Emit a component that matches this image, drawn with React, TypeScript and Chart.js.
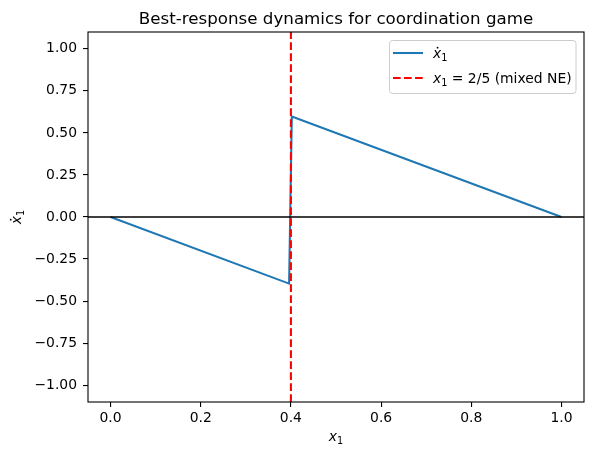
import { useEffect, useRef } from 'react';
import { Chart, registerables } from 'chart.js';

Chart.register(...registerables);

// Best-response dynamics x1' = BR(x1) - x1 for the coordination game
const curveX = [0, 0.396, 0.402, 1.0];
const curveY = [0, -0.396, 0.598, 0];
const mixedNE = 0.4;
const xTicks = [0, 0.2, 0.4, 0.6, 0.8, 1.0];
const yTicks = [-1, -0.75, -0.5, -0.25, 0, 0.25, 0.5, 0.75, 1];
const xRange = [-0.05, 1.05];
const yRange = [-1.1, 1.1];

const FONT = '"DejaVu Sans", sans-serif';
const BLUE = '#1f77b4';
const RED = '#ff0000';

type Piece = { t: string; it?: boolean; sub?: boolean; dot?: boolean };

function pieceFont(p: Piece, size: number) {
  const s = p.sub ? size * 0.7 : size;
  return `${p.it ? 'italic ' : ''}${s}px ${FONT}`;
}

function measureMath(ctx: CanvasRenderingContext2D, pieces: Piece[], size: number) {
  let w = 0;
  for (const p of pieces) {
    ctx.font = pieceFont(p, size);
    w += ctx.measureText(p.t).width;
  }
  return w;
}

// Draws a short run of math-like text (italic symbols, subscripts, dot accents)
function drawMath(ctx: CanvasRenderingContext2D, pieces: Piece[], x: number, y: number, size: number) {
  let cx = x;
  ctx.textBaseline = 'alphabetic';
  ctx.textAlign = 'left';
  for (const p of pieces) {
    ctx.font = pieceFont(p, size);
    const w = ctx.measureText(p.t).width;
    const dy = p.sub ? size * 0.25 : 0;
    ctx.fillText(p.t, cx, y + dy);
    if (p.dot) {
      ctx.beginPath();
      ctx.arc(cx + w * 0.55, y - size * 0.74, size * 0.065, 0, Math.PI * 2);
      ctx.fill();
    }
    cx += w;
  }
  return cx - x;
}

const fmt = (v: number, digits: number) => {
  const s = Math.abs(v).toFixed(digits);
  return v < 0 ? '\u2212' + s : s;
};

const xdotLabel: Piece[] = [{ t: 'x', it: true, dot: true }, { t: '1', sub: true }];
const xLabel: Piece[] = [{ t: 'x', it: true }, { t: '1', sub: true }];
const neLabel: Piece[] = [
  { t: 'x', it: true },
  { t: '1', sub: true },
  { t: ' = 2/5 (mixed NE)' },
];

const decorations = {
  id: 'decorations',
  afterDatasetsDraw(chart: Chart) {
    const { ctx, chartArea: a } = chart;
    ctx.save();
    ctx.strokeStyle = '#000';
    ctx.lineWidth = 1.1;
    ctx.strokeRect(a.left, a.top, a.right - a.left, a.bottom - a.top);
    ctx.restore();
  },
  afterDraw(chart: Chart) {
    const { ctx, chartArea: a } = chart;
    const cx = (a.left + a.right) / 2;
    ctx.save();
    ctx.fillStyle = '#000';

    // title
    ctx.font = `16.7px ${FONT}`;
    ctx.textAlign = 'center';
    ctx.textBaseline = 'alphabetic';
    ctx.fillText('Best-response dynamics for coordination game', cx, 24);

    // x axis label
    const size = 13.9;
    const wx = measureMath(ctx, xLabel, size);
    drawMath(ctx, xLabel, cx - wx / 2, 441, size);

    // y axis label
    ctx.save();
    ctx.translate(21, (a.top + a.bottom) / 2);
    ctx.rotate(-Math.PI / 2);
    const wy = measureMath(ctx, xdotLabel, size);
    drawMath(ctx, xdotLabel, -wy / 2, 0, size);
    ctx.restore();

    // legend
    const lx = 389.5, ly = 40.5, lw = 186.5, lh = 53;
    ctx.beginPath();
    ctx.roundRect(lx, ly, lw, lh, 3);
    ctx.fillStyle = 'rgba(255,255,255,0.8)';
    ctx.fill();
    ctx.strokeStyle = '#cccccc';
    ctx.lineWidth = 1;
    ctx.stroke();

    const rows = [
      { y: 53, color: BLUE, dash: [] as number[], label: xdotLabel },
      { y: 78, color: RED, dash: [7.7, 3.3], label: neLabel },
    ];
    for (const r of rows) {
      ctx.beginPath();
      ctx.setLineDash(r.dash);
      ctx.strokeStyle = r.color;
      ctx.lineWidth = 2.08;
      ctx.moveTo(393, r.y);
      ctx.lineTo(423, r.y);
      ctx.stroke();
      ctx.setLineDash([]);
      ctx.fillStyle = '#000';
      drawMath(ctx, r.label, 433, r.y + 5, size);
    }
    ctx.restore();
  },
};

export default function App() {
  const ref = useRef<HTMLCanvasElement>(null);

  useEffect(() => {
    if (!ref.current) return;
    const tickFont = { family: FONT, size: 13.9 };
    const chart = new Chart(ref.current, {
      type: 'line',
      data: {
        datasets: [
          {
            label: 'mixed NE',
            data: [
              { x: mixedNE, y: yRange[0] },
              { x: mixedNE, y: yRange[1] },
            ],
            borderColor: RED,
            borderWidth: 2.08,
            borderDash: [7.7, 3.3],
            pointRadius: 0,
            order: 0,
          },
          {
            label: 'zero',
            data: [
              { x: xRange[0], y: 0 },
              { x: xRange[1], y: 0 },
            ],
            borderColor: '#000',
            borderWidth: 1.4,
            pointRadius: 0,
            order: 1,
          },
          {
            label: 'x1 dot',
            data: curveX.map((x, i) => ({ x, y: curveY[i] })),
            borderColor: BLUE,
            borderWidth: 2.08,
            pointRadius: 0,
            tension: 0,
            order: 2,
          },
        ],
      },
      options: {
        responsive: false,
        animation: false,
        devicePixelRatio: 1,
        layout: { padding: { top: 32, right: 8, left: 0, bottom: 0 } },
        plugins: {
          legend: { display: false },
          tooltip: { enabled: false },
          title: { display: false },
        },
        scales: {
          x: {
            type: 'linear',
            min: xRange[0],
            max: xRange[1],
            afterBuildTicks: (s: any) => {
              s.ticks = xTicks.map((v) => ({ value: v }));
            },
            afterFit: (s: any) => {
              s.height = 53;
            },
            ticks: {
              font: tickFont,
              color: '#000',
              padding: 3,
              autoSkip: false,
              maxRotation: 0,
              callback: (v: any) => fmt(Number(v), 1),
            },
            grid: {
              drawOnChartArea: false,
              drawTicks: true,
              tickLength: 5,
              color: '#000',
              lineWidth: 1.1,
            },
            border: { display: false },
          },
          y: {
            type: 'linear',
            min: yRange[0],
            max: yRange[1],
            afterBuildTicks: (s: any) => {
              s.ticks = yTicks.map((v) => ({ value: v }));
            },
            afterFit: (s: any) => {
              s.width = 88;
            },
            ticks: {
              font: tickFont,
              color: '#000',
              padding: 6,
              autoSkip: false,
              callback: (v: any) => fmt(Number(v), 2),
            },
            grid: {
              drawOnChartArea: false,
              drawTicks: true,
              tickLength: 5,
              color: '#000',
              lineWidth: 1.1,
            },
            border: { display: false },
          },
        },
      },
      plugins: [decorations],
    });
    return () => chart.destroy();
  }, []);

  return (
    <div style={{ position: 'absolute', left: 0, top: 0, width: 592, height: 455, background: '#fff' }}>
      <canvas ref={ref} width={592} height={455} />
    </div>
  );
}
